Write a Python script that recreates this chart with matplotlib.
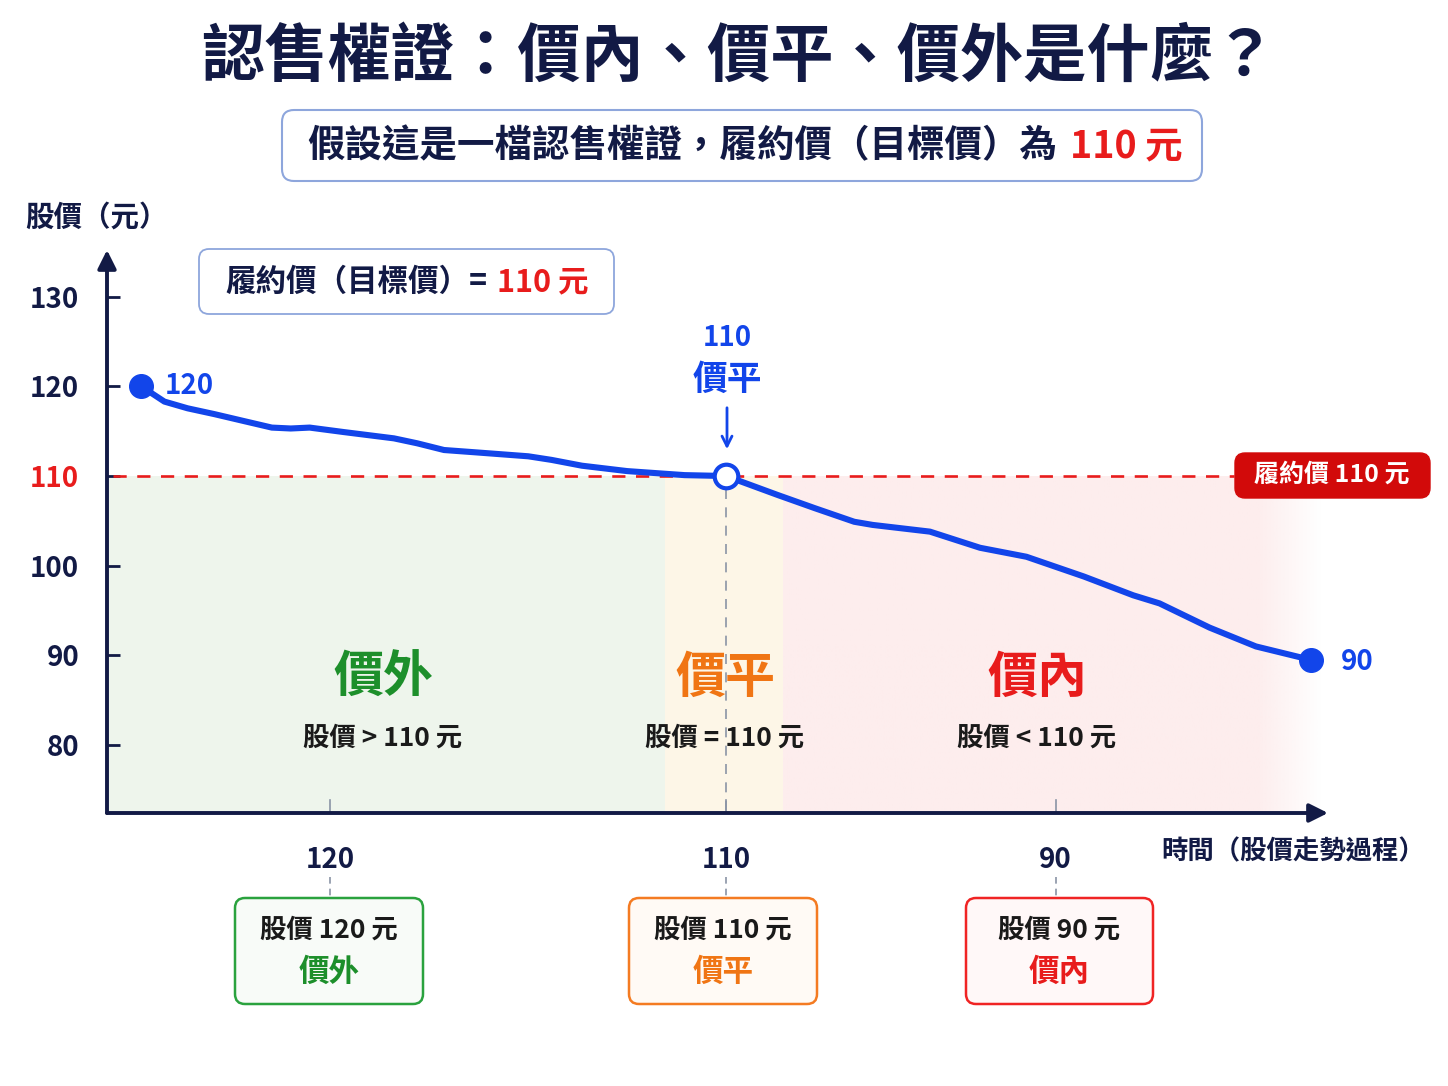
import matplotlib
matplotlib.use('Agg')
import matplotlib.pyplot as plt
from matplotlib.patches import FancyBboxPatch, FancyArrowPatch
import numpy as np

plt.rcParams['font.family'] = ['Noto Sans CJK TC', 'DejaVu Sans']

# ---------------- data ----------------
time_pts = [2.8, 4.7, 6.6, 8.8, 11.3, 13.5, 15.05, 16.6, 19.4, 23.5, 25.4, 27.6, 30.1,
            34.5, 36.4, 38.9, 42.6, 47.3, 50.7,
            54.9, 58.0, 61.2, 62.7, 67.4, 71.5, 75.3, 80.0, 84.05, 86.2, 90.3, 94.1, 98.6]
price = [120, 118.3, 117.55, 116.9, 116.1, 115.4, 115.3, 115.4, 114.9, 114.2, 113.65, 112.9, 112.65,
         112.2, 111.8, 111.15, 110.55, 110.1, 110,
         107.9, 106.4, 104.9, 104.55, 103.8, 102.0, 101.0, 98.8, 96.7, 95.8, 93.1, 91.0, 89.5]
strike = 110
y_ticks = [80, 90, 100, 110, 120, 130]
x_tick_pos = [18.3, 50.7, 77.7]
x_tick_labels = ['120', '110', '90']
zone_bounds = [0, 45.7, 55.4, 99.5]   # 價外 | 價平 | 價內
zone_names = ['價外', '價平', '價內']
zone_desc = ['股價 > 110 元', '股價 = 110 元', '股價 < 110 元']
box_lines = ['股價 120 元', '股價 110 元', '股價 90 元']

title = '認售權證：價內、價平、價外是什麼？'
subtitle_a = '假設這是一檔認售權證，履約價（目標價）為'
subtitle_b = '110 元'

# ---------------- style ----------------
NAVY = '#121a45'
BLUE = '#1245ea'
RED = '#e81c1c'
GREEN = '#1d8f2b'
ORANGE = '#f07514'
GREY = '#8a94a6'
zone_colors = [GREEN, ORANGE, RED]
zone_fill = ['#eef5ec', '#fdf6e7', '#fdeeee']
box_edge = ['#2aa23e', '#f47b22', '#f02424']
box_face = ['#f8fbf8', '#fffaf5', '#fff8f8']
box_x = [(235, 423), (629, 817), (966, 1153)]

W, H = 1448, 1086
fig = plt.figure(figsize=(W / 100, H / 100), dpi=100)
fig.patch.set_facecolor('white')
FT = fig.dpi_scale_trans


def P(x, y):
    return (x / 100, (H - y) / 100)


def ftext(x, y, s, **kw):
    kw.setdefault('ha', 'center')
    kw.setdefault('va', 'center')
    return fig.text(*P(x, y), s, transform=FT, **kw)


def rbox(x0, y0, x1, y1, ec, fc, lw=1.5, r=0.1, z=1):
    p = FancyBboxPatch(P(x0, y1), (x1 - x0) / 100, (y1 - y0) / 100,
                       boxstyle=f"round,pad=0,rounding_size={r}", transform=FT,
                       ec=ec, fc=fc, lw=lw, zorder=z)
    fig.add_artist(p)


renderer = fig.canvas.get_renderer()


def multi_text(segs, cx, cy, gap=8, **kw):
    arts = []
    widths = []
    for s, c in segs:
        t = ftext(0, cy, s, color=c, ha='left', **kw)
        bb = t.get_window_extent(renderer=renderer)
        arts.append(t)
        widths.append(bb.width)
    total = sum(widths) + gap * (len(segs) - 1)
    x = cx - total / 2
    for t, w in zip(arts, widths):
        t.set_position(P(x, cy))
        x += w + gap


# ---------------- axes ----------------
ax = fig.add_axes([107 / W, (H - 813) / H, (1328 - 107) / W, (813 - 250) / H])
ax.set_facecolor('none')
ymin, ymax = 72.43, 135.2
for s in ax.spines.values():
    s.set_visible(False)

# zone shading
ax.fill_between([zone_bounds[0], zone_bounds[1]], ymin, strike, color=zone_fill[0], lw=0, zorder=0)
ax.fill_between([zone_bounds[1], zone_bounds[2]], ymin, strike, color=zone_fill[1], lw=0, zorder=0)
n = 300
grad = np.ones((1, n, 4))
grad[..., :3] = np.array([253, 237, 237]) / 255
xs = np.linspace(0, 1, n)
grad[0, :, 3] = np.clip((1 - xs) / 0.12, 0, 1)
ax.imshow(grad, extent=(zone_bounds[2], zone_bounds[3], ymin, strike), aspect='auto', zorder=0,
          interpolation='bilinear')

# strike line
ax.plot([0.5, 92.3], [strike, strike], color=RED, lw=1.9, dashes=(5, 4), zorder=3)

# vertical guide at 價平
t_cross = time_pts[price.index(strike)]
ax.plot([t_cross, t_cross], [strike - 1.5, ymin], color=GREY, lw=1.2, dashes=(6, 5), zorder=2)
for xt in x_tick_pos:
    ax.plot([xt, xt], [ymin, ymin + 1.5], color=GREY, lw=1.2, zorder=2, clip_on=False)
    ax.plot([xt, xt], [65.3, 63.0], color=GREY, lw=1.2, dashes=(4, 3), zorder=2, clip_on=False)

# price line
ax.plot(time_pts, price, color=BLUE, lw=4.4, solid_joinstyle='round', solid_capstyle='round', zorder=5)
ax.plot([time_pts[0], time_pts[-1]], [price[0], price[-1]], 'o', ms=17, color=BLUE, zorder=6)
ax.plot([t_cross], [strike], 'o', ms=17, mfc='white', mec=BLUE, mew=3, zorder=7)

# axis arrows
arrow_kw = dict(arrowstyle='-|>', color=NAVY, lw=2.8, mutation_scale=28, shrinkA=0, shrinkB=0)
ax.annotate('', xy=(0, 1), xytext=(0, 0), xycoords='axes fraction', arrowprops=arrow_kw)
ax.annotate('', xy=(1, 0), xytext=(0, 0), xycoords='axes fraction', arrowprops=arrow_kw)

ax.set_xlim(0, 100)
ax.set_ylim(ymin, ymax)
ax.set_yticks(y_ticks)
ax.set_yticklabels([str(v) for v in y_ticks])
ax.tick_params(axis='y', direction='in', length=9, width=2, color=NAVY, pad=20,
               labelsize=20, labelcolor=NAVY)
for lbl in ax.get_yticklabels():
    lbl.set_fontweight('bold')
    if lbl.get_text() == str(strike):
        lbl.set_color(RED)
ax.set_xticks(x_tick_pos)
ax.set_xticklabels(x_tick_labels)
ax.tick_params(axis='x', length=0, pad=24, labelsize=20, labelcolor=NAVY)
for lbl in ax.get_xticklabels():
    lbl.set_fontweight('bold')

# ---------------- texts ----------------
ftext(739, 57, title, fontsize=45.5, fontweight='bold', color=NAVY)
rbox(282, 110, 1202, 181, ec='#8ea6dc', fc='white', lw=1.5, r=0.12)
multi_text([(subtitle_a, NAVY), (subtitle_b, RED)], 745, 146, gap=12, fontsize=27, fontweight='bold')

ftext(96, 218, '股價（元）', fontsize=20.5, fontweight='bold', color=NAVY)
rbox(199, 249, 614, 314, ec='#8ea6dc', fc='white', lw=1.3, r=0.1)
multi_text([('履約價（目標價）=', NAVY), ('110 元', RED)], 407, 282, gap=10, fontsize=22, fontweight='bold')

ftext(189, 386, '120', fontsize=20, fontweight='bold', color=BLUE)
ftext(1357, 662, '90', fontsize=20, fontweight='bold', color=BLUE)
ftext(727, 338, '110', fontsize=20, fontweight='bold', color=BLUE)
ftext(727, 379, '價平', fontsize=25, fontweight='bold', color=BLUE)
fig.add_artist(FancyArrowPatch(P(727, 405), P(727, 452), transform=FT,
                               arrowstyle='->', mutation_scale=18, color=BLUE, lw=2))

rbox(1235, 453, 1430, 498, ec='#d20a0a', fc='#d20a0a', lw=1, r=0.1)
ftext(1332, 475, '履約價 110 元', fontsize=18, fontweight='bold', color='white')

ftext(1293, 852, '時間（股價走勢過程）', fontsize=19, fontweight='bold', color=NAVY)

zone_cx = [383, 725, 1037]
for i in range(3):
    ftext(zone_cx[i], 678, zone_names[i], fontsize=36, fontweight='bold', color=zone_colors[i])
    ftext(zone_cx[i], 738, zone_desc[i], fontsize=19, fontweight='bold', color='#1a1a1a')
    x0, x1 = box_x[i]
    rbox(x0, 898, x1, 1004, ec=box_edge[i], fc=box_face[i], lw=1.8, r=0.1)
    cx = (x0 + x1) / 2
    ftext(cx, 930, box_lines[i], fontsize=19, fontweight='bold', color='#1a1a1a')
    ftext(cx, 972, zone_names[i], fontsize=22, fontweight='bold', color=zone_colors[i])

fig.savefig('out.png', dpi=100, facecolor='white')
